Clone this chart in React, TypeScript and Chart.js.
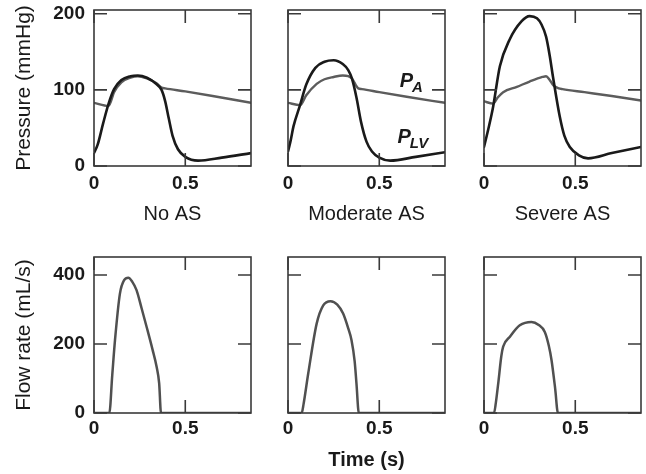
import React, { useEffect, useRef } from "react";
import { Chart, registerables } from "chart.js";

Chart.register(...registerables);

// ---------- data ----------
const T_MAX = 0.86;
const timeTicks = [0, 0.5];
const pressureTicks = [0, 100, 200];
const flowTicks = [0, 200, 400];
const PRESSURE_MAX = 205;
const FLOW_MAX = 452;

const columnTitles = ["No AS", "Moderate AS", "Severe AS"];
const pressureTitle = "Pressure (mmHg)";
const flowTitle = "Flow rate (mL/s)";
const timeTitle = "Time (s)";

// No AS
const noAsLvT = [0, 0.02, 0.05, 0.08, 0.11, 0.15, 0.2, 0.24, 0.29, 0.34, 0.37, 0.39, 0.41, 0.43, 0.46, 0.5, 0.57, 0.7, 0.86];
const noAsLvP = [17, 28, 56, 82, 101, 113, 118, 119, 116, 108, 100, 85, 62, 40, 22, 12, 7, 11, 17];
const noAsAT = [0, 0.08, 0.11, 0.15, 0.2, 0.24, 0.29, 0.34, 0.37, 0.39, 0.5, 0.65, 0.86];
const noAsAP = [83, 79, 97, 110, 116, 118, 115, 109, 103, 102, 98, 92, 83];
const noAsFlowT = [0, 0.084, 0.1, 0.115, 0.142, 0.165, 0.188, 0.21, 0.233, 0.26, 0.288, 0.32, 0.343, 0.357, 0.367, 0.86];
const noAsFlowQ = [0, 0, 110, 211, 346, 385, 392, 380, 356, 305, 250, 185, 134, 86, 0, 0];

// Moderate AS
const modLvT = [0, 0.015, 0.03, 0.066, 0.1, 0.15, 0.2, 0.25, 0.3, 0.33, 0.35, 0.375, 0.4, 0.43, 0.46, 0.5, 0.56, 0.7, 0.86];
const modLvP = [19, 34, 52, 80, 107, 129, 137, 139, 134, 126, 115, 90, 58, 32, 19, 11, 7, 12, 18];
const modAT = [0, 0.066, 0.1, 0.157, 0.2, 0.25, 0.3, 0.33, 0.35, 0.385, 0.405, 0.5, 0.65, 0.86];
const modAP = [83, 80, 93, 108, 114, 117, 119, 118, 115, 102, 101, 97, 91, 83];
const modFlowT = [0, 0.075, 0.085, 0.111, 0.157, 0.193, 0.233, 0.27, 0.302, 0.33, 0.348, 0.365, 0.375, 0.388, 0.86];
const modFlowQ = [0, 0, 25, 115, 259, 312, 324, 314, 288, 245, 211, 150, 86, 0, 0];

// Severe AS
const sevLvT = [0, 0.025, 0.05, 0.087, 0.14, 0.205, 0.25, 0.29, 0.315, 0.34, 0.36, 0.378, 0.415, 0.44, 0.47, 0.52, 0.57, 0.7, 0.86];
const sevLvP = [25, 50, 78, 131, 166, 190, 197, 194, 186, 170, 145, 117, 65, 40, 25, 14, 10, 17, 25];
const sevAT = [0, 0.05, 0.075, 0.105, 0.18, 0.25, 0.32, 0.34, 0.36, 0.38, 0.41, 0.43, 0.55, 0.7, 0.86];
const sevAP = [85, 82, 90, 97, 104, 111, 117, 118, 113, 106, 102, 101, 97, 92, 86];
const sevFlowT = [0, 0.055, 0.065, 0.078, 0.095, 0.105, 0.142, 0.196, 0.26, 0.3, 0.333, 0.355, 0.37, 0.39, 0.405, 0.86];
const sevFlowQ = [0, 0, 30, 86, 165, 192, 221, 254, 264, 255, 235, 195, 153, 70, 0, 0];

// curve labels (panel "Moderate AS"), placed in data coordinates
const curveLabels = [
  { main: "P", sub: "A", t: 0.612, p: 104 },
  { main: "P", sub: "LV", t: 0.6, p: 30 },
];

// ---------- style / layout ----------
const W = 646;
const H = 474;
const FONT = '"Liberation Sans", Arial, Helvetica, sans-serif';
const INK = "#1a1a1a";
const GRAY = "#5c5c5c";
const FLOW = "#505050";
const FRAME = "#3a3a3a";
const COL_LEFT = [94, 288, 484];
const PANEL_W = 157;
const ROW_TOP = [10, 257];
const PANEL_H = 156;
const TICK_LEN = 13;

type Series = { t: number[]; v: number[]; color: string; width: number };
type PanelSpec = {
  row: number;
  col: number;
  series: Series[];
  yMax: number;
  yTicks: number[];
  yTitle?: string;
  xTitle?: string;
  xTitleBold?: boolean;
  labels?: boolean;
};

const PANELS: PanelSpec[] = [
  {
    row: 0, col: 0, yMax: PRESSURE_MAX, yTicks: pressureTicks, yTitle: pressureTitle, xTitle: columnTitles[0],
    series: [
      { t: noAsLvT, v: noAsLvP, color: INK, width: 2.6 },
      { t: noAsAT, v: noAsAP, color: GRAY, width: 2.4 },
    ],
  },
  {
    row: 0, col: 1, yMax: PRESSURE_MAX, yTicks: pressureTicks, xTitle: columnTitles[1], labels: true,
    series: [
      { t: modLvT, v: modLvP, color: INK, width: 2.6 },
      { t: modAT, v: modAP, color: GRAY, width: 2.4 },
    ],
  },
  {
    row: 0, col: 2, yMax: PRESSURE_MAX, yTicks: pressureTicks, xTitle: columnTitles[2],
    series: [
      { t: sevLvT, v: sevLvP, color: INK, width: 2.6 },
      { t: sevAT, v: sevAP, color: GRAY, width: 2.4 },
    ],
  },
  {
    row: 1, col: 0, yMax: FLOW_MAX, yTicks: flowTicks, yTitle: flowTitle,
    series: [{ t: noAsFlowT, v: noAsFlowQ, color: FLOW, width: 2.5 }],
  },
  {
    row: 1, col: 1, yMax: FLOW_MAX, yTicks: flowTicks, xTitle: timeTitle, xTitleBold: true,
    series: [{ t: modFlowT, v: modFlowQ, color: FLOW, width: 2.5 }],
  },
  {
    row: 1, col: 2, yMax: FLOW_MAX, yTicks: flowTicks,
    series: [{ t: sevFlowT, v: sevFlowQ, color: FLOW, width: 2.5 }],
  },
];

const framePlugin = {
  id: "frameTicks",
  afterDatasetsDraw(chart: any) {
    const { ctx, chartArea, scales } = chart;
    const { left, top, right, bottom } = chartArea;
    const x = scales.x;
    const y = scales.y;
    ctx.save();
    ctx.strokeStyle = FRAME;
    ctx.lineWidth = 1.6;
    ctx.beginPath();
    for (const tk of x.ticks) {
      const px = x.getPixelForValue(tk.value);
      ctx.moveTo(px, bottom);
      ctx.lineTo(px, bottom - TICK_LEN);
      ctx.moveTo(px, top);
      ctx.lineTo(px, top + TICK_LEN);
    }
    for (const tk of y.ticks) {
      const py = y.getPixelForValue(tk.value);
      ctx.moveTo(left, py);
      ctx.lineTo(left + TICK_LEN, py);
      ctx.moveTo(right, py);
      ctx.lineTo(right - TICK_LEN, py);
    }
    ctx.stroke();
    ctx.strokeRect(left, top, right - left, bottom - top);
    ctx.restore();
  },
};

const labelPlugin = {
  id: "curveLabels",
  afterDatasetsDraw(chart: any) {
    const { ctx, scales } = chart;
    ctx.save();
    ctx.fillStyle = INK;
    ctx.textBaseline = "alphabetic";
    ctx.textAlign = "left";
    for (const lab of curveLabels) {
      const px = scales.x.getPixelForValue(lab.t);
      const py = scales.y.getPixelForValue(lab.p);
      ctx.font = `italic bold 20px ${FONT}`;
      ctx.fillText(lab.main, px, py);
      const w = ctx.measureText(lab.main).width;
      ctx.font = `italic bold 15px ${FONT}`;
      ctx.fillText(lab.sub, px + w - 1, py + 5);
    }
    ctx.restore();
  },
};

function buildConfig(p: PanelSpec): any {
  const L = COL_LEFT[p.col];
  const T = ROW_TOP[p.row];
  const R = L + PANEL_W;
  const B = T + PANEL_H;
  const yW = p.col === 0 ? 82 : 0;
  const xH = p.row === 0 ? 60 : 59;
  const tickFont = { family: FONT, size: 19, weight: "bold" as const };
  return {
    type: "line",
    data: {
      datasets: p.series.map((s) => ({
        data: s.t.map((t, k) => ({ x: t, y: s.v[k] })),
        borderColor: s.color,
        borderWidth: s.width,
        pointRadius: 0,
        cubicInterpolationMode: "monotone",
        fill: false,
        borderCapStyle: "round",
        borderJoinStyle: "round",
      })),
    },
    options: {
      responsive: false,
      maintainAspectRatio: false,
      animation: false,
      devicePixelRatio: 1,
      events: [],
      layout: { padding: { left: L - yW, top: T, right: W - R, bottom: H - B - xH } },
      plugins: { legend: { display: false }, tooltip: { enabled: false }, title: { display: false } },
      scales: {
        x: {
          type: "linear",
          position: "bottom",
          min: 0,
          max: T_MAX,
          afterBuildTicks: (s: any) => {
            s.ticks = timeTicks.map((v) => ({ value: v }));
          },
          afterFit: (s: any) => {
            s.height = xH;
            s.paddingLeft = 0;
            s.paddingRight = 0;
          },
          grid: { display: false, drawTicks: false },
          border: { display: false },
          ticks: {
            display: true,
            padding: p.row === 0 ? 6 : 4,
            color: INK,
            font: tickFont,
            maxRotation: 0,
            autoSkip: false,
            callback: (v: any) => String(v),
          },
          title: {
            display: !!p.xTitle,
            text: p.xTitle || "",
            color: INK,
            padding: 0,
            font: { family: FONT, size: 20, weight: p.xTitleBold ? "bold" : "normal" },
          },
        },
        y: {
          type: "linear",
          position: "left",
          min: 0,
          max: p.yMax,
          afterBuildTicks: (s: any) => {
            s.ticks = p.yTicks.map((v) => ({ value: v }));
          },
          afterFit: (s: any) => {
            s.width = yW;
            s.paddingTop = 0;
            s.paddingBottom = 0;
          },
          grid: { display: false, drawTicks: false },
          border: { display: false },
          ticks: {
            display: p.col === 0,
            padding: 9,
            color: INK,
            font: tickFont,
            autoSkip: false,
            callback: (v: any) => String(v),
          },
          title: {
            display: !!p.yTitle,
            text: p.yTitle || "",
            color: INK,
            padding: 0,
            font: { family: FONT, size: 21, weight: "normal" },
          },
        },
      },
    },
    plugins: p.labels ? [framePlugin, labelPlugin] : [framePlugin],
  };
}

export default function App() {
  const refs = useRef<(HTMLCanvasElement | null)[]>([]);
  useEffect(() => {
    const charts = PANELS.map((p, i) => new Chart(refs.current[i] as HTMLCanvasElement, buildConfig(p)));
    return () => charts.forEach((c) => c.destroy());
  }, []);
  return (
    <div
      style={{
        position: "fixed",
        left: 0,
        top: 0,
        width: W,
        height: H,
        background: "#ffffff",
        overflow: "hidden",
      }}
    >
      {PANELS.map((_, i) => (
        <canvas
          key={i}
          ref={(el) => {
            refs.current[i] = el;
          }}
          width={W}
          height={H}
          style={{ position: "absolute", left: 0, top: 0, width: W, height: H }}
        />
      ))}
    </div>
  );
}
